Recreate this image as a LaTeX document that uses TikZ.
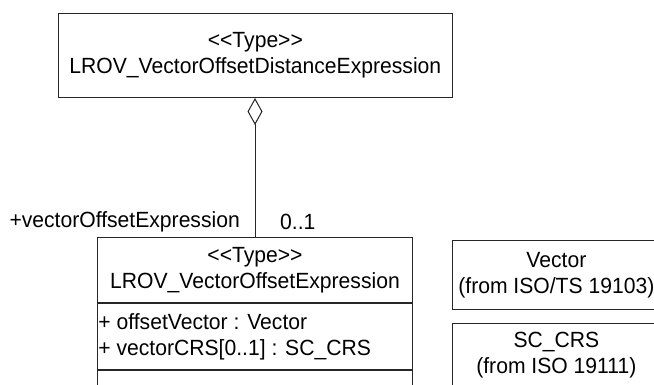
\documentclass[tikz,border=0pt]{standalone}
\usepackage{fontspec}
\setmainfont{Liberation Sans}[FakeStretch=0.96]
\usetikzlibrary{arrows.meta, positioning}

\newcommand{\umlstereo}[1]{<\kern0pt<#1>\kern0pt>}

\tikzset{
  umlbox/.style={draw=black!85, line width=1pt, rectangle, inner sep=0pt, anchor=north west},
  umltext/.style={font=\fontsize{22}{26}\selectfont, text=black, align=center, inner sep=0pt},
}

\begin{document}
\begin{tikzpicture}[x=1pt, y=-1pt]
\useasboundingbox (0,0) rectangle (654,385);
\clip (0,0) rectangle (654,385);

% Whole type
\node[umlbox, umltext, minimum width=393.7pt, minimum height=84pt] (dist) at (58,13)
  {\umlstereo{Type}\\LROV\_VectorOffsetDistanceExpression};

% Part type, three compartments
\node[umlbox, umltext, minimum width=315.6pt, minimum height=64.4pt] (offs) at (96.7,237.3)
  {\umlstereo{Type}\\LROV\_VectorOffsetExpression};
\node[umlbox, minimum width=315.6pt, minimum height=66.6pt] (attrs) at (offs.south west) {};
\node[umltext, anchor=west, align=left] (attrtext) at ([xshift=1.5pt]attrs.west)
  {+ offsetVector : Vector\\+ vectorCRS[0..1] : SC\_CRS};
\node[umlbox, minimum width=315.6pt, minimum height=40pt] (ops) at (attrs.south west) {};

% Referenced types
\node[umlbox, umltext, minimum width=208.3pt, minimum height=68.6pt] (vect) at (451.7,240)
  {Vector\\(from ISO/TS 19103)};
\node[umlbox, umltext, minimum width=208.3pt, minimum height=63pt] (crs) at (451.7,323.3)
  {SC\_CRS\\(from ISO 19111)};

% Aggregation
\draw[black!85, line width=1pt, -{Diamond[open, length=27pt, width=15pt]}]
  (offs.north) -- (offs.north |- dist.south);
\node[umltext, anchor=east] (role) at ([xshift=-15pt, yshift=15pt]offs.north) {+vectorOffsetExpression};
\node[umltext, anchor=west] (mult) at ([xshift=25pt, yshift=15pt]offs.north) {0..1};

\end{tikzpicture}
\end{document}
